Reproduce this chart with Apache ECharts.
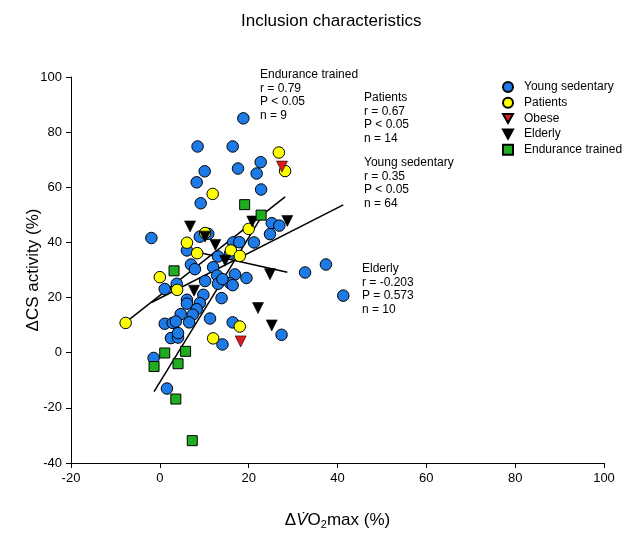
<!DOCTYPE html>
<html>
<head>
<meta charset="utf-8">
<script src="https://cdn.jsdelivr.net/npm/echarts@6/dist/echarts.min.js"></script>
<style>html,body{margin:0;padding:0;background:#fff}#c{width:642px;height:538px}</style>
</head>
<body>
<div id="c"></div>
<script>
// ---- data ----
const youngSedentary = [
  [18.8,85.0],[8.5,74.8],[16.4,74.8],[22.7,69.1],[10.1,65.8],[17.6,66.8],[21.8,65.0],
  [8.3,61.8],[22.8,59.2],[9.2,54.2],[-1.9,41.6],[25.2,47.0],[26.9,46.1],[24.8,43.0],
  [21.2,40.0],[9.0,42.1],[10.9,43.1],[6.1,37.1],[16.5,40.0],[17.9,40.1],[13.1,34.9],
  [15.8,35.9],[7.0,32.0],[7.9,30.3],[12.0,31.0],[12.9,28.0],[16.9,28.4],[19.5,27.1],
  [10.2,26.0],[3.8,25.0],[1.1,23.1],[13.1,25.0],[15.8,25.3],[16.4,24.5],[9.8,21.0],
  [13.9,19.8],[6.1,19.2],[6.1,17.8],[9.0,18.0],[8.3,15.8],[4.7,14.0],[7.4,13.8],
  [11.3,12.4],[1.1,10.5],[2.9,10.8],[3.6,11.3],[6.6,11.0],[16.4,11.0],[2.5,5.3],
  [4.1,5.5],[4.1,7.1],[14.1,3.0],[27.4,6.5],[-1.4,-1.9],[1.6,-13.0],[37.4,32.0],
  [32.7,29.1],[41.3,20.7],[14.1,26.7]
];
const patients = [
  [26.8,72.6],[28.2,65.9],[11.9,57.6],[10.2,43.4],[6.1,39.9],[8.4,36.1],[20.0,44.9],
  [16.0,37.1],[18.0,35.1],[0.0,27.4],[3.9,22.8],[-7.7,10.8],[18.0,9.5],[12.0,5.2]
];
const obese = [[27.5,67.5],[18.2,4.1]];
const elderly = [
  [6.8,45.8],[10.2,42.1],[12.5,39.1],[20.8,47.6],[28.7,47.8],[14.7,33.4],
  [24.8,28.5],[7.7,22.5],[22.1,16.2],[25.2,9.9]
];
const enduranceTrained = [
  [19.1,53.7],[22.8,49.9],[3.2,29.7],[1.1,-0.1],[5.8,0.5],[-1.3,-5.0],
  [4.1,-4.0],[3.6,-16.8],[7.3,-31.9]
];
// regression line endpoints
const fitYoung = [[-1.9,18.2],[41.3,53.6]];
const fitPatients = [[-7.7,11.0],[28.2,56.5]];
const fitElderly = [[6.8,37.1],[28.7,29.2]];
const fitEndurance = [[-1.3,-14.1],[22.8,49.1]];

const seriesNames = ['Young sedentary','Patients','Obese','Elderly','Endurance trained'];
const xTicks = {min:-20, max:100, interval:20};
const yTicks = {min:-40, max:100, interval:20};

const noteEndurance = ['Endurance trained','r = 0.79','P < 0.05','n = 9'];
const notePatients = ['Patients','r = 0.67','P < 0.05','n = 14'];
const noteYoung = ['Young sedentary','r = 0.35','P < 0.05','n = 64'];
const noteElderly = ['Elderly','r = -0.203','P = 0.573','n = 10'];

// ---- chart ----
const FONT = '"Liberation Sans", Arial, sans-serif';
const TRI_DOWN = 'path://M0,0 L10,0 L5,9 Z';
const chart = echarts.init(document.getElementById('c'));

function fitLine(data){
  return {type:'line', data:data, symbol:'none', silent:true, z:1,
    lineStyle:{color:'#000', width:1.5}, legendHoverLink:false};
}
function note(lines, left, top){
  return {type:'text', left:left, top:top, z:100,
    style:{text:lines.join('\n'), font:'12px '+FONT, fill:'#000', lineHeight:13.5}};
}

chart.setOption({
  animation:false,
  backgroundColor:'#fff',
  title:{text:'Inclusion characteristics', left:236, top:8,
    textStyle:{fontFamily:FONT, fontSize:17, fontWeight:'normal', color:'#000'}},
  grid:{left:71, right:38, top:77, bottom:75},
  legend:{
    data:[
      {name:seriesNames[0], icon:'circle'},
      {name:seriesNames[1], icon:'circle'},
      {name:seriesNames[2], icon:TRI_DOWN},
      {name:seriesNames[3], icon:TRI_DOWN},
      {name:seriesNames[4], icon:'rect'}
    ],
    orient:'vertical', left:497, top:76, itemWidth:10, itemHeight:10,
    itemGap:3.7, textStyle:{fontFamily:FONT, fontSize:12, lineHeight:12, color:'#000', padding:[0,0,0,6]}, selectedMode:false},
  xAxis:{type:'value', min:xTicks.min, max:xTicks.max, interval:xTicks.interval,
    splitLine:{show:false},
    axisLine:{onZero:false, lineStyle:{color:'#000', width:1}},
    axisTick:{length:5, lineStyle:{color:'#000'}},
    axisLabel:{color:'#000', fontFamily:FONT, fontSize:13, margin:9},
    name:'{d|Δ}{it|V̇}{n|O}{sub|2}{n|max (%)}', nameLocation:'middle', nameGap:48,
    nameMoveOverlap:false,
    nameTextStyle:{rich:{
      d:{fontFamily:FONT, fontSize:17, color:'#000'},
      it:{fontFamily:FONT, fontSize:17, fontStyle:'italic', color:'#000'},
      n:{fontFamily:FONT, fontSize:17, color:'#000'},
      sub:{fontFamily:FONT, fontSize:11, color:'#000', verticalAlign:'bottom', padding:[8,0,0,0]}
    }}},
  yAxis:{type:'value', min:yTicks.min, max:yTicks.max, interval:yTicks.interval,
    splitLine:{show:false},
    axisLine:{show:true, onZero:false, lineStyle:{color:'#000', width:1}},
    axisTick:{show:true, length:5, lineStyle:{color:'#000'}},
    axisLabel:{color:'#000', fontFamily:FONT, fontSize:13, margin:9},
    name:'ΔCS activity (%)', nameLocation:'middle', nameGap:29, nameMoveOverlap:false,
    nameTextStyle:{fontFamily:FONT, fontSize:17, color:'#000'}},
  series:[
    fitLine(fitYoung), fitLine(fitPatients), fitLine(fitElderly), fitLine(fitEndurance),
    {name:'Young sedentary', type:'scatter', data:youngSedentary, symbol:'circle', symbolSize:11.5, z:3,
      itemStyle:{color:'#1e7ae6', borderColor:'#000', borderWidth:1, opacity:1}},
    {name:'Patients', type:'scatter', data:patients, symbol:'circle', symbolSize:11.5, z:4,
      itemStyle:{color:'#ffff00', borderColor:'#000', borderWidth:1, opacity:1}},
    {name:'Obese', type:'scatter', data:obese, symbol:'triangle', symbolRotate:180, symbolSize:11, z:5,
      itemStyle:{color:'#e01818', borderColor:'#000', borderWidth:0.6, opacity:1}},
    {name:'Elderly', type:'scatter', data:elderly, symbol:'triangle', symbolRotate:180, symbolSize:11, z:5,
      itemStyle:{color:'#000', borderColor:'#000', borderWidth:0.6, opacity:1}},
    {name:'Endurance trained', type:'scatter', data:enduranceTrained, symbol:'rect', symbolSize:10, z:5,
      itemStyle:{color:'#1fae1f', borderColor:'#000', borderWidth:1, opacity:1}}
  ],
  graphic:[
    note(noteEndurance, 260, 68),
    note(notePatients, 364, 91),
    note(noteYoung, 364, 156),
    note(noteElderly, 362, 262)
  ]
});
</script>
</body>
</html>
